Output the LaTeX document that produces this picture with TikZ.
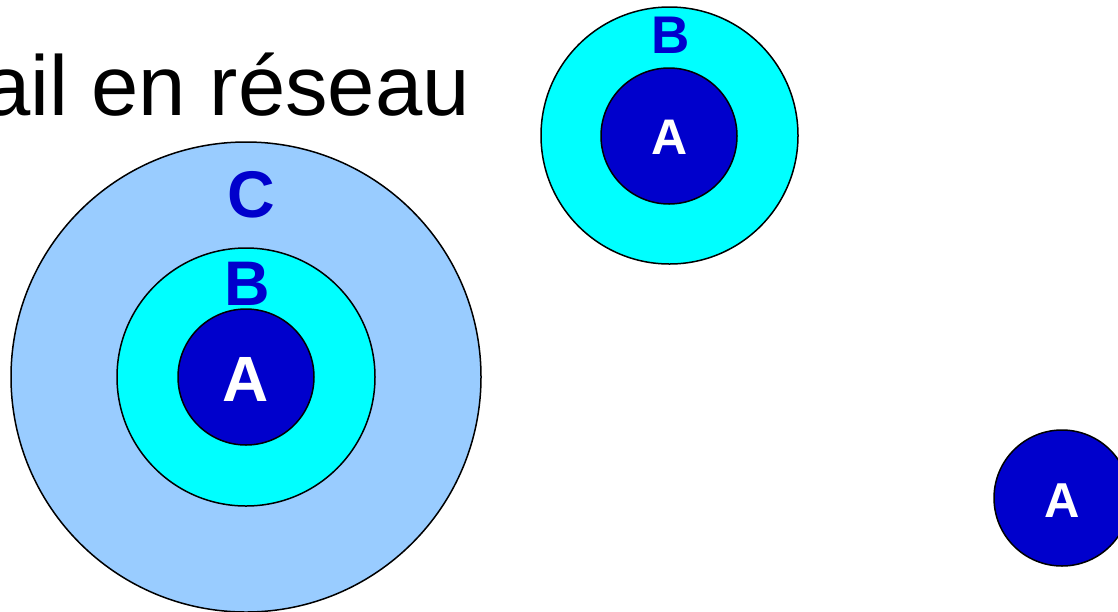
\documentclass[tikz,border=0pt]{standalone}
\usepackage{fontspec}
\setmainfont{Liberation Sans}
\definecolor{darkA}{HTML}{0000CC}
\definecolor{cyanB}{HTML}{00FFFF}
\definecolor{lightC}{HTML}{99CCFF}
\tikzset{
  ring/.style={circle, draw=black, line width=1.5pt, inner sep=0pt},
  ringA/.style={ring, fill=darkA},
  ringB/.style={ring, fill=cyanB},
  ringC/.style={ring, fill=lightC},
  lblblue/.style={text=darkA, font=\bfseries, inner sep=0pt, anchor=base},
  lblwhite/.style={text=white, font=\bfseries, inner sep=0pt, anchor=base},
}
\begin{document}
\begin{tikzpicture}[x=1pt,y=-1pt]
\useasboundingbox (0,0) rectangle (1118,611);
\clip (0,0) rectangle (1118,611);
\fill[white] (0,0) rectangle (1118,611);
% title
\node[anchor=base east, inner sep=0pt, font=\fontsize{85}{88}\selectfont] (title) at (470,115) {ail en réseau};
% left nested circles
\node[ringC, minimum size=470pt] (C1) at (246,377) {};
\node[ringB, minimum size=258pt] (B1) at (246,377) {};
\node[ringA, minimum size=136pt] (A1) at (246,377) {};
\node[lblblue, font=\bfseries\fontsize{66}{66}\selectfont] (lC1) at (251,217) {C};
\node[lblblue, font=\bfseries\fontsize{63}{63}\selectfont] (lB1) at (247,305) {B};
\node[lblwhite, font=\bfseries\fontsize{64}{64}\selectfont] (lA1) at (246,401) {A};
% top circles
\node[ringB, minimum size=257pt] (B2) at (669.5,135.5) {};
\node[ringA, minimum size=136pt] (A2) at (669,136) {};
\node[lblblue, font=\bfseries\fontsize{53}{53}\selectfont] (lB2) at (671,53) {B};
\node[lblwhite, font=\bfseries\fontsize{50}{50}\selectfont] (lA2) at (669.5,154) {A};
% bottom right circle
\node[ringA, minimum size=136pt] (A3) at (1062,498) {};
\node[lblwhite, font=\bfseries\fontsize{49}{49}\selectfont] (lA3) at (1062,517) {A};
\end{tikzpicture}
\end{document}
